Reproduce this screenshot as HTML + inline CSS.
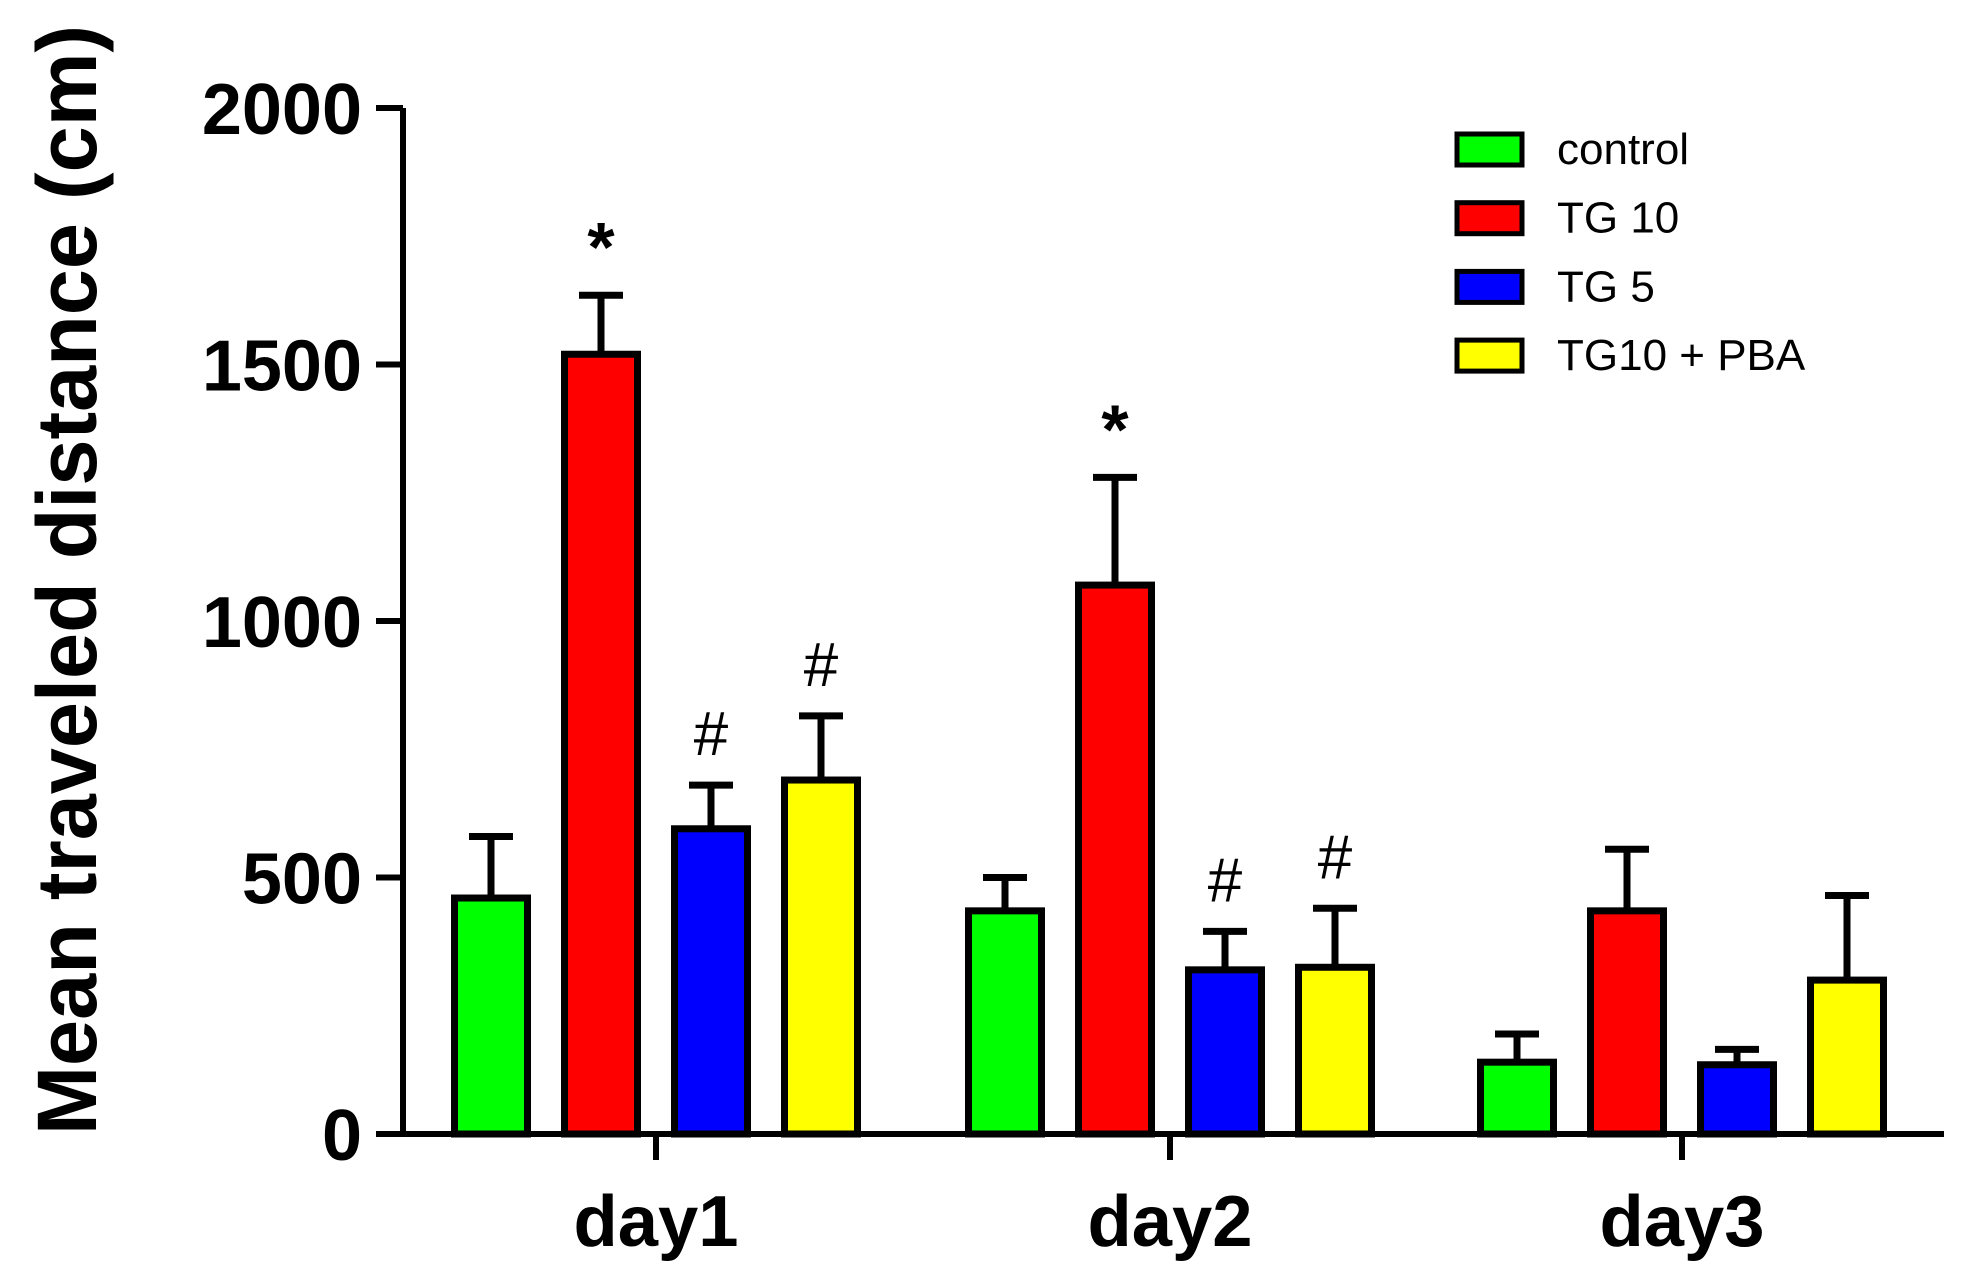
<!DOCTYPE html>
<html><head><meta charset="utf-8"><style>body{margin:0;background:#fff}svg{display:block}text{font-family:"Liberation Sans",sans-serif;font-weight:bold}text.nb{font-weight:normal}</style></head>
<body>
<svg id="chart" width="1964" height="1288" viewBox="0 0 1964 1288" xmlns="http://www.w3.org/2000/svg"></svg>
<script>
const categories = ["day1","day2","day3"];
const seriesNames = ["control","TG 10","TG 5","TG10 + PBA"];
const seriesColors = ["#00ff00","#ff0000","#0000ff","#ffff00"];
const controlVals = [460,435,140];
const tg10Vals = [1520,1070,435];
const tg5Vals = [595,320,135];
const pbaVals = [690,325,300];
const controlErr = [120,65,55];
const tg10Err = [115,210,120];
const tg5Err = [85,75,30];
const pbaErr = [125,115,165];
const annotations = [["","*","#","#"],["","*","#","#"],["","","",""]];
const yTicks = [0,500,1000,1500,2000];

const values=[controlVals,tg10Vals,tg5Vals,pbaVals];
const errs=[controlErr,tg10Err,tg5Err,pbaErr];
const NS="http://www.w3.org/2000/svg";
const svg=document.getElementById('chart');
const y0=1134,yTop=108,axX=403;
const y=v=>y0-(v/2000)*(y0-yTop);
const groupCenters=[656,1170,1682];
const pitch=110,bw=73;
const xBar=(g,s)=>groupCenters[g]+(s-1.5)*pitch;
function mk(tag,attrs,parent){const e=document.createElementNS(NS,tag);for(const k in attrs)e.setAttribute(k,attrs[k]);(parent||svg).appendChild(e);return e;}

for(let g=0;g<categories.length;g++){
  for(let s=0;s<4;s++){
    const cx=xBar(g,s),v=values[s][g],top=y(v),et=y(v+errs[s][g]);
    const eb=mk('path',{d:`M${cx} ${top} V${et} M${cx-22} ${et} H${cx+22}`,stroke:'#000','stroke-width':7,fill:'none'});
    
    
    const r=mk('rect',{x:cx-bw/2,y:top,width:bw,height:y0-top,fill:seriesColors[s],stroke:'#000','stroke-width':7});
    
    
    const a=annotations[g][s];
    if(a){const t=mk('text',{x:cx,y:et-(a==='*'?24:30),'text-anchor':'middle','font-size':a==='*'?70:62});t.textContent=a;
      if(a==='#')t.setAttribute('class','nb');
      
      }
  }
}
const ax=mk('path',{d:`M${axX} ${yTop} V${y0} M376 ${y0} H1944`,stroke:'#000','stroke-width':6,fill:'none'});


yTicks.forEach(v=>{
  const tk=mk('line',{x1:376,x2:axX,y1:y(v),y2:y(v),stroke:'#000','stroke-width':6});
  
  
  const t=mk('text',{x:362,y:y(v)+26,'text-anchor':'end','font-size':72});t.textContent=v;
  
  
});
categories.forEach((c,g)=>{
  const tk=mk('line',{x1:groupCenters[g],x2:groupCenters[g],y1:y0,y2:y0+26,stroke:'#000','stroke-width':6});
  
  
  const t=mk('text',{x:groupCenters[g],y:1246,'text-anchor':'middle','font-size':72,textLength:165,lengthAdjust:'spacingAndGlyphs'});t.textContent=c;
  
  
});
const yt=mk('text',{x:0,y:0,transform:'translate(96,580) rotate(-90)','text-anchor':'middle','font-size':84,textLength:1110,lengthAdjust:'spacingAndGlyphs'});
yt.textContent='Mean traveled distance (cm)';


seriesNames.forEach((n,s)=>{
  const cy=149+s*68.7;
  const r=mk('rect',{x:1457,y:cy-15,width:65,height:31,fill:seriesColors[s],stroke:'#000','stroke-width':5});
  
  
  const t=mk('text',{x:1557,y:cy+15,'font-size':44,'class':'nb'});t.textContent=n;
  
  
});
</script>
</body></html>
